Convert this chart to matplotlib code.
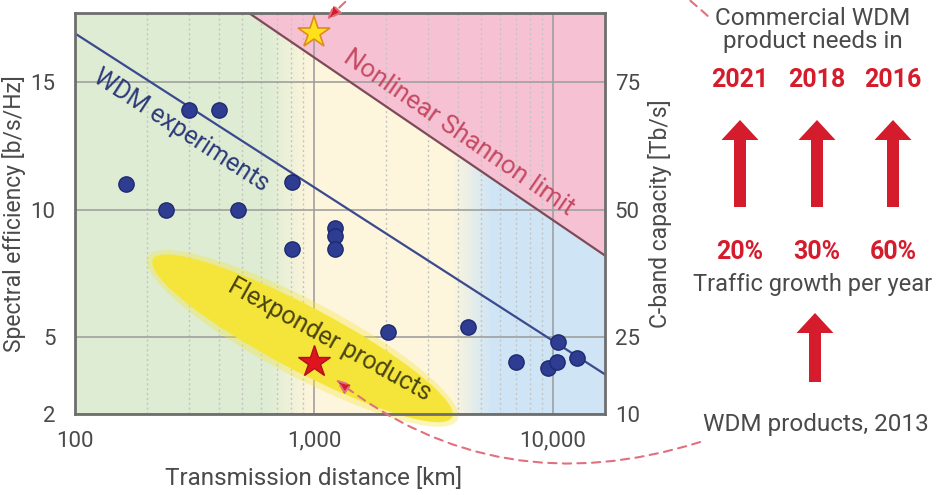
import numpy as np
import matplotlib
matplotlib.use('Agg')
import matplotlib.pyplot as plt
from matplotlib.patches import Ellipse
from matplotlib.colors import to_rgb
from matplotlib.ticker import FixedLocator, NullFormatter, FuncFormatter

plt.rcParams['font.family'] = ['Roboto', 'DejaVu Sans']

# WDM experiments: transmission distance [km] / spectral efficiency [b/s/Hz]
wdm_km = [163, 240, 300, 400, 480, 810, 810, 1225, 1225, 1225, 2040, 4400, 7000, 10500, 9500, 10400, 12600]
wdm_se = [11.0, 10.0, 13.9, 13.9, 10.0, 11.1, 8.45, 9.3, 8.95, 8.45, 5.2, 5.4, 4.05, 4.8, 3.8, 4.05, 4.2]

# trend line and nonlinear Shannon limit (end points)
wdm_line_km = [100, 20000]
wdm_line_se = [16.9, 3.05]
shannon_km = [400, 20000]
shannon_se = [18.5, 7.67]

# stars: commercial need / WDM products 2013
need_km, need_se = 1000, 16.9
prod_km, prod_se = 1000, 4.05

# flexponder products ellipse (ends of long axis)
flex_km = [212, 3780]
flex_se = [8.05, 1.87]

# reach regions
green_end, cream_start = 640, 960
cream_end, blue_start = 3800, 5500

# right panel texts
years = ['2021', '2018', '2016']
growth = ['20%', '30%', '60%']

c_green = '#ddecd3'
c_cream = '#fdf5dc'
c_blue = '#cfe5f6'
c_pink = '#f6c2d3'
c_red = '#d41c2c'
c_dash = '#e0707e'
c_navy = '#2e3d92'
c_text = '#4a4a4a'

fig = plt.figure(figsize=(9.41, 4.95), dpi=100)
ax = fig.add_axes([75/941, 1-414/495, 530/941, 401/495])
ax.set_xscale('log')
ax.set_xlim(100, 16500)
ax.set_ylim(2, 17.7)


def span_fade(a, b, c1, c2, n=24):
	edges = np.geomspace(a, b, n + 1)
	for i in range(n):
		t = (i + 0.5) / n
		col = (1 - t) * np.array(to_rgb(c1)) + t * np.array(to_rgb(c2))
		ax.axvspan(edges[i], edges[i+1], color=col, lw=0.6, zorder=0)


# backgrounds
ax.axvspan(100, green_end, color=c_green, lw=0.6, zorder=0)
span_fade(green_end, cream_start, c_green, c_cream)
ax.axvspan(cream_start, cream_end, color=c_cream, lw=0.6, zorder=0)
span_fade(cream_end, blue_start, c_cream, c_blue)
ax.axvspan(blue_start, 16500, color=c_blue, lw=0.6, zorder=0)
ax.fill_between(shannon_km, shannon_se, 30, color=c_pink, lw=0, zorder=0.2)

# grid
ax.set_axisbelow(True)
ax.xaxis.set_major_locator(FixedLocator([100, 1000, 10000]))
ax.xaxis.set_minor_locator(FixedLocator([m * d for d in [100, 1000, 10000] for m in range(2, 10)]))
ax.xaxis.set_minor_formatter(NullFormatter())
ax.xaxis.set_major_formatter(FuncFormatter(lambda v, p: '{:,.0f}'.format(v)))
ax.grid(which='major', axis='x', color='#a0a0a0', lw=1.2)
ax.grid(which='minor', axis='x', color='#c4c4c4', lw=1, ls=(0, (1.5, 2)))
ax.set_yticks([2, 5, 10, 15])
ax.grid(which='major', axis='y', color='#a0a0a0', lw=1.2)

# flexponder ellipse, drawn in inches so it can spill below the axes
p0 = ax.transData.transform((flex_km[0], flex_se[0])) / fig.dpi
p1 = ax.transData.transform((flex_km[1], flex_se[1])) / fig.dpi
centre = (p0 + p1) / 2
length = np.hypot(*(p1 - p0))
angle = np.degrees(np.arctan2(p1[1] - p0[1], p1[0] - p0[0]))
for w_add, h, a in [(0.12, 0.76, 0.35), (0.0, 0.64, 1.0)]:
	ax.add_patch(Ellipse(centre, length + w_add, h, angle=angle, transform=fig.dpi_scale_trans,
		facecolor='#f5e53a', edgecolor='none', alpha=a, clip_on=False, zorder=1))

# lines
ax.plot(wdm_line_km, wdm_line_se, color='#3b4a8e', lw=1.6, zorder=2)
ax.plot(shannon_km, shannon_se, color='#7d4b58', lw=1.6, zorder=2)

# points
ax.plot(wdm_km, wdm_se, 'o', ms=11, color=c_navy, mec='#1e2a6e', mew=1, zorder=3)
ax.plot(need_km, need_se, '*', ms=24, color='#ffe21a', mec='#e08a20', mew=1.2, zorder=4)
ax.plot(prod_km, prod_se, '*', ms=24, color='#e0141e', mec='#b01018', mew=1, zorder=4)

# in-plot labels
ax.text(278, 13.1, 'WDM experiments', rotation=-33, rotation_mode='anchor', ha='center', va='center',
	fontsize=18, color='#2d3a78', zorder=5)
ax.text(4050, 13.0, 'Nonlinear Shannon limit', rotation=-34.5, rotation_mode='anchor', ha='center', va='center',
	fontsize=18.5, color='#c64a64', zorder=5)
ax.text(1166, 4.92, 'Flexponder products', rotation=-29, rotation_mode='anchor', ha='center', va='center',
	fontsize=18, color='#4a4410', zorder=5)

# axes styling
for s in ax.spines.values():
	s.set_color('#6e6e6e')
	s.set_linewidth(2)
ax.tick_params(which='both', length=0, labelsize=16, labelcolor=c_text)
ax.tick_params(axis='x', pad=12)
ax.tick_params(axis='y', pad=14)
ax.set_xlabel('Transmission distance [km]', fontsize=17.5, color=c_text)
ax.xaxis.set_label_coords(0.45, -0.16)
ax.xaxis.label.set_va('center')
ax.set_ylabel('Spectral efficiency [b/s/Hz]', fontsize=16.5, color=c_text)
ax.yaxis.set_label_coords(-0.115, 0.5)
ax.yaxis.label.set_va('center')

ax2 = ax.twinx()
ax2.set_ylim(2 * 5, 17.7 * 5)
ax2.set_yticks([10, 25, 50, 75])
ax2.tick_params(length=0, labelsize=16, labelcolor=c_text, pad=7)
for s in ax2.spines.values():
	s.set_visible(False)
ax2.set_ylabel('C-band capacity [Tb/s]', fontsize=16.5, color=c_text)
ax2.yaxis.set_label_coords(1.104, 0.5)
ax2.yaxis.label.set_va('center')

# dashed pointers from the stars to the right-hand notes
ax.annotate('', xy=(need_km, need_se), xytext=(0.752, 0.968), textcoords='figure fraction',
	arrowprops=dict(arrowstyle='-|>,head_length=0.9,head_width=0.35', color=c_dash, fc=c_red,
		lw=1.5, ls=(0, (4, 3)), shrinkA=0, shrinkB=13, connectionstyle='arc3,rad=0.5'),
	annotation_clip=False, zorder=6)
ax.annotate('', xy=(prod_km, prod_se), xytext=(0.744, 0.107), textcoords='figure fraction',
	arrowprops=dict(arrowstyle='-|>,head_length=0.9,head_width=0.35', color=c_dash, fc=c_red,
		lw=1.5, ls=(0, (4, 3)), shrinkA=0, shrinkB=20, connectionstyle='arc3,rad=-0.28'),
	annotation_clip=False, zorder=6)

# right-hand panel
fig.text(813/941, 1-30/495, 'Commercial WDM\nproduct needs in', ha='center', va='center',
	fontsize=17.5, color=c_text, linespacing=1.05)
year_x = [740/941, 817/941, 893/941]
for x, yr, g in zip(year_x, years, growth):
	fig.text(x, 1-80/495, yr, ha='center', va='center', fontsize=18, fontweight='bold', color=c_red)
	fig.text(x, 1-252/495, g, ha='center', va='center', fontsize=18, fontweight='bold', color=c_red)
	fig.add_artist(matplotlib.patches.FancyArrow(x, 1-207/495, 0, 87/495, width=12/941,
		head_width=37/941, head_length=20/495, length_includes_head=True,
		transform=fig.transFigure, color=c_red, lw=0))
fig.text(813/941, 1-285/495, 'Traffic growth per year', ha='center', va='center', fontsize=17, color=c_text)
fig.add_artist(matplotlib.patches.FancyArrow(815/941, 1-382/495, 0, 69/495, width=12/941,
	head_width=37/941, head_length=20/495, length_includes_head=True,
	transform=fig.transFigure, color=c_red, lw=0))
fig.text(816/941, 1-425/495, 'WDM products, 2013', ha='center', va='center', fontsize=17.5, color=c_text)

fig.savefig('out.png', dpi=100)
